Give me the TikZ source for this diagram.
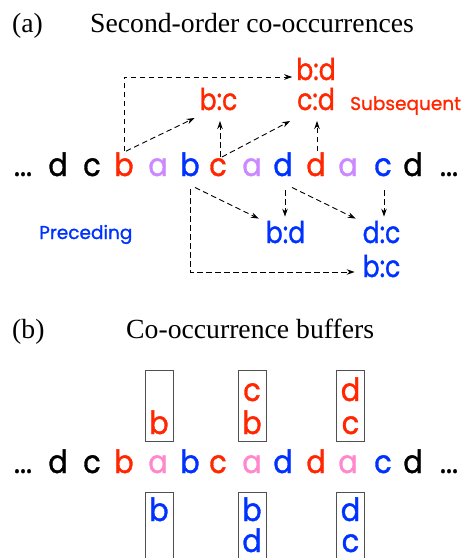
\documentclass[tikz,border=0pt]{standalone}
\usepackage{fontspec}
\setmainfont{Liberation Serif}
\newfontfamily\geo[FakeBold=1.2]{Poppins}
\usetikzlibrary{arrows.meta,calc}
\definecolor{tred}{RGB}{255,38,0}
\definecolor{tblue}{RGB}{0,50,255}
\definecolor{tlav}{RGB}{204,136,255}
\definecolor{tpink}{RGB}{255,136,204}
\definecolor{boxgray}{RGB}{80,80,80}
\begin{document}
\begin{tikzpicture}[x=1pt,y=-1pt,
  tok/.style={anchor=base,inner sep=1pt,xscale=0.9,font=\geo\fontsize{32}{32}\selectfont},
  lbl/.style={anchor=base,inner sep=1pt,xscale=0.84,font=\geo\fontsize{30}{30}\selectfont},
  note/.style={anchor=base west,inner sep=0pt,font=\geo\fontsize{18.5}{18.5}\selectfont},
  ttl/.style={anchor=base west,inner sep=0pt,font=\fontsize{27.7}{27.7}\selectfont},
  arr/.style={dash pattern=on 5.5pt off 3.5pt,line width=0.9pt,-{Stealth[length=8pt,width=5.5pt]}},
  buf/.style={draw=boxgray,line width=0.9pt,minimum width=28pt,inner sep=0pt},
]
\useasboundingbox (0,0) rectangle (465,558);

% ---------- (a) ----------
\node[ttl] (ta) at (12,32) {(a)};
\node[ttl] (tta) at (90,32) {Second-order co-occurrences};

\node[tok] (a0) at (23,176) {...};
\node[tok] (a1) at (58,176) {d};
\node[tok] (a2) at (92,176) {c};
\node[tok,text=tred] (a3) at (124,176) {b};
\node[tok,text=tlav] (a4) at (158,176) {a};
\node[tok,text=tblue] (a5) at (190,176) {b};
\node[tok,text=tred] (a6) at (218,176) {c};
\node[tok,text=tlav] (a7) at (252,176) {a};
\node[tok,text=tblue] (a8) at (283,176) {d};
\node[tok,text=tred] (a9) at (316,176) {d};
\node[tok,text=tlav] (a10) at (348,176) {a};
\node[tok,text=tblue] (a11) at (383,176) {c};
\node[tok] (a12) at (413,176) {d};
\node[tok] (a13) at (449,176) {...};

\node[lbl,text=tred] (bdR) at (316,80) {b:d};
\node[lbl,text=tred] (bcR) at (218.5,110) {b:c};
\node[lbl,text=tred] (cdR) at (316,110) {c:d};
\node[note,text=tred] (sub) at (350,110) {Subsequent};

\node[lbl,text=tblue] (bdB) at (285.5,243) {b:d};
\node[lbl,text=tblue] (dcB) at (381.5,243) {d:c};
\node[lbl,text=tblue] (bcB) at (381.5,277) {b:c};
\node[note,text=tblue] (pre) at (39,239) {Preceding};

% subsequent arrows
\draw[arr] (a3.north) -- ($(a3.north |- bdR.base)+(0,-3)$) -- ($(bdR.base west)+(-3,-3)$);
\draw[arr] ($(a3.north)+(2,0)$) -- ($(bcR.base west)+(-4,8)$);
\draw[arr] ($(a6.north)+(2,0)$) -- ($(a6.north |- bcR.base)+(2,11)$);
\draw[arr] ($(a6.north)+(4,0)$) -- ($(cdR.base west)+(-6,11)$);
\draw[arr] ($(a9.north)+(1,0)$) -- ($(a9.north |- cdR.base)+(1,11)$);

% preceding arrows
\draw[arr] ($(a5.south)+(0,12)$) -- ($(a5.south |- bcB.base)+(0,-5)$) -- ($(bcB.base west)+(-7,-5)$);
\draw[arr] ($(a5.south)+(5,10)$) -- ($(bdB.north west)+(-6,-1)$);
\draw[arr] ($(a8.south)+(2,13)$) -- ($(a8.south |- bdB.north)+(2,-3)$);
\draw[arr] ($(a8.south)+(9,10)$) -- ($(dcB.north west)+(-6,-1)$);
\draw[arr] ($(a11.south)+(1,13)$) -- ($(a11.south |- dcB.north)+(1,-3)$);

% ---------- (b) ----------
\node[ttl] (tb) at (12,338) {(b)};
\node[ttl] (ttb) at (126,338) {Co-occurrence buffers};

\node[tok] (b0) at (23,473) {...};
\node[tok] (b1) at (58,473) {d};
\node[tok] (b2) at (92,473) {c};
\node[tok,text=tred] (b3) at (124,473) {b};
\node[tok,text=tpink] (b4) at (158,473) {a};
\node[tok,text=tblue] (b5) at (190,473) {b};
\node[tok,text=tred] (b6) at (218,473) {c};
\node[tok,text=tpink] (b7) at (252,473) {a};
\node[tok,text=tblue] (b8) at (283,473) {d};
\node[tok,text=tred] (b9) at (316,473) {d};
\node[tok,text=tpink] (b10) at (348,473) {a};
\node[tok,text=tblue] (b11) at (383,473) {c};
\node[tok] (b12) at (413,473) {d};
\node[tok] (b13) at (449,473) {...};

% buffers above
\node[buf,minimum height=71pt] (u1) at (159,405.5) {};
\node[buf,minimum height=71pt] (u2) at (252,405.5) {};
\node[buf,minimum height=71pt] (u3) at (350.5,405.5) {};
\node[tok,text=tred] (u1b) at (159,434) {b};
\node[tok,text=tred] (u2c) at (252,401) {c};
\node[tok,text=tred] (u2b) at (252,434) {b};
\node[tok,text=tred] (u3d) at (350.5,401) {d};
\node[tok,text=tred] (u3c) at (350.5,434) {c};

% buffers below
\node[buf,minimum height=90pt] (l1) at (159,537) {};
\node[buf,minimum height=90pt] (l2) at (252,537) {};
\node[buf,minimum height=90pt] (l3) at (350.5,537) {};
\node[tok,text=tblue] (l1b) at (159,521) {b};
\node[tok,text=tblue] (l2b) at (252,521) {b};
\node[tok,text=tblue] (l2d) at (252,552) {d};
\node[tok,text=tblue] (l3d) at (350.5,521) {d};
\node[tok,text=tblue] (l3c) at (350.5,552) {c};
\end{tikzpicture}
\end{document}
